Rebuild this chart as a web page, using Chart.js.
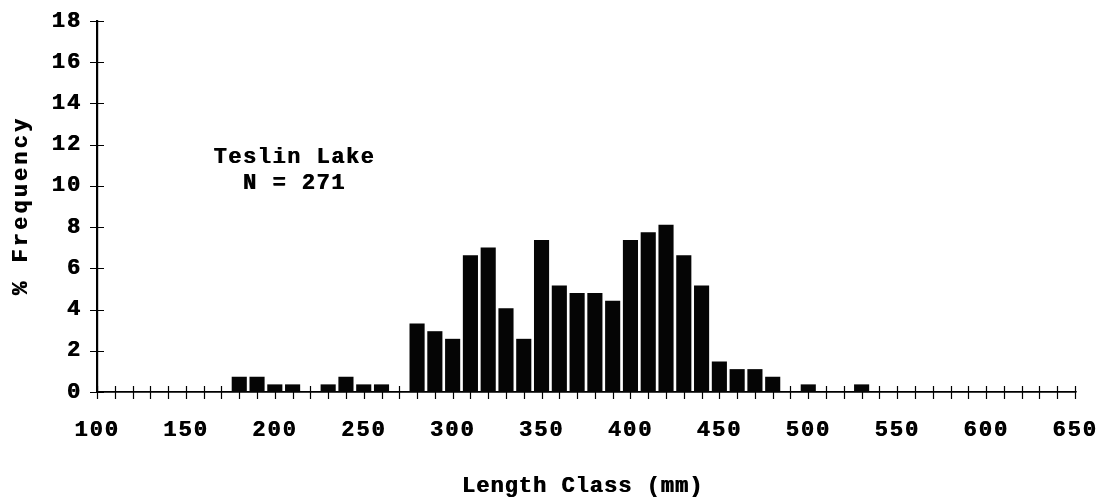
<!DOCTYPE html>
<html>
<head>
<meta charset="utf-8">
<style>
  html, body { margin: 0; padding: 0; background: #fff; }
  #wrap { width: 1102px; height: 500px; }
</style>
<script src="https://cdn.jsdelivr.net/npm/chart.js@4/dist/chart.umd.min.js"></script>
</head>
<body>
<div id="wrap"><canvas id="c" width="1102" height="500"></canvas></div>
<script>
// Length-frequency of the Teslin Lake sample (N = 271), 10 mm classes
const lengthClasses = [180, 190, 200, 210, 230, 240, 250, 260,
  280, 290, 300, 310, 320, 330, 340, 350, 360, 370, 380, 390,
  400, 410, 420, 430, 440, 450, 460, 470, 480, 500, 530];
const pctFreq = [0.74, 0.74, 0.37, 0.37, 0.37, 0.74, 0.37, 0.37,
  3.32, 2.95, 2.58, 6.64, 7.01, 4.06, 2.58, 7.38, 5.17, 4.80, 4.80, 4.43,
  7.38, 7.75, 8.12, 6.64, 5.17, 1.48, 1.11, 1.11, 0.74, 0.37, 0.37];

const xRange = [100, 650];
const xMinorStep = 10;
const xLabelStep = 50;
const yRange = [0, 18];
const yStep = 2;

const sampleLabel = ['Teslin Lake', 'N = 271'];
const xTitle = 'Length Class (mm)';
const yTitle = '% Frequency';

const FONT = "'Liberation Mono', 'Courier New', monospace";

// heavy, widely spaced typewriter lettering for the axis labels
function inkStyle(ctx, on) {
  ctx.shadowColor = on ? '#000' : 'rgba(0,0,0,0)';
  ctx.shadowOffsetX = on ? 0.7 : 0;
  ctx.shadowOffsetY = 0;
  ctx.shadowBlur = 0;
}
const typewriter = {
  id: 'typewriter',
  beforeDraw(chart) {
    chart.ctx.letterSpacing = '2px';
    inkStyle(chart.ctx, true);
  },
  beforeDatasetsDraw(chart) { inkStyle(chart.ctx, false); },
  afterDraw(chart) {
    chart.ctx.letterSpacing = '0px';
    inkStyle(chart.ctx, false);
  }
};

// crossing tick marks on both axes, drawn under the bars
const crossTicks = {
  id: 'crossTicks',
  beforeDatasetsDraw(chart) {
    const { ctx, scales: { x, y } } = chart;
    const y0 = y.getPixelForValue(0);
    const x0 = x.getPixelForValue(xRange[0]);
    ctx.save();
    inkStyle(ctx, false);
    ctx.strokeStyle = '#000';
    ctx.lineWidth = 1.2;
    ctx.beginPath();
    for (let v = xRange[0]; v <= xRange[1]; v += xMinorStep) {
      const px = Math.round(x.getPixelForValue(v)) + 0.5;
      ctx.moveTo(px, y0 - 6);
      ctx.lineTo(px, y0 + 7);
    }
    for (let v = yRange[0]; v <= yRange[1]; v += yStep) {
      const py = Math.round(y.getPixelForValue(v)) + 0.5;
      ctx.moveTo(x0 - 7, py);
      ctx.lineTo(x0 + 7, py);
    }
    ctx.stroke();
    ctx.restore();
  }
};

function spacedText(ctx, text, x, y, size, spacing) {
  ctx.font = 'bold ' + size + 'px ' + FONT;
  ctx.letterSpacing = spacing + 'px';
  ctx.textAlign = 'center';
  ctx.textBaseline = 'middle';
  ctx.fillText(text, x + spacing / 2, y);
}

// axis titles and the sample note
const labels = {
  id: 'labels',
  afterDraw(chart) {
    const { ctx, chartArea: a, scales: { x, y } } = chart;
    ctx.save();
    ctx.fillStyle = '#000';
    inkStyle(ctx, true);
    const cx = x.getPixelForValue(210.5);
    spacedText(ctx, sampleLabel[0], cx, y.getPixelForValue(11.4), 22, 1.5);
    spacedText(ctx, sampleLabel[1], cx, y.getPixelForValue(10.1), 22, 1.5);
    spacedText(ctx, xTitle, (a.left + a.right) / 2 - 4, 486, 22, 1);
    ctx.restore();
    ctx.save();
    ctx.fillStyle = '#000';
    ctx.translate(21, (a.top + a.bottom) / 2);
    ctx.rotate(-Math.PI / 2);
    ctx.shadowColor = '#000';
    ctx.shadowOffsetY = 0.7;
    ctx.shadowBlur = 0;
    spacedText(ctx, yTitle, 0, 0, 22, 3.1);
    ctx.restore();
  }
};

new Chart(document.getElementById('c'), {
  type: 'bar',
  data: {
    datasets: [{
      data: lengthClasses.map((v, i) => ({ x: v, y: pctFreq[i] })),
      backgroundColor: '#050505',
      borderWidth: 0,
      barPercentage: 0.85,
      categoryPercentage: 1.0
    }]
  },
  options: {
    responsive: false,
    animation: false,
    events: [],
    layout: { padding: { top: 21, right: 27, left: 0, bottom: 0 } },
    plugins: { legend: { display: false }, tooltip: { enabled: false } },
    scales: {
      x: {
        type: 'linear',
        offset: false,
        min: xRange[0],
        max: xRange[1],
        afterFit(s) {
          s.height = 108;
          s.paddingLeft = 0;
          s.paddingRight = 0;
        },
        afterBuildTicks(s) {
          const t = [];
          for (let v = xRange[0]; v <= xRange[1]; v += xMinorStep) t.push({ value: v });
          s.ticks = t;
        },
        ticks: {
          autoSkip: false,
          maxRotation: 0,
          padding: 25,
          color: '#000',
          font: { family: FONT, size: 22, weight: 'bold' },
          callback: v => (v % xLabelStep === 0 ? String(v) : '')
        },
        grid: { display: false, drawTicks: false },
        border: { display: true, color: '#000', width: 1.5 }
      },
      y: {
        min: yRange[0],
        max: yRange[1],
        afterFit(s) {
          s.width = 97;
          s.paddingTop = 0;
          s.paddingBottom = 0;
        },
        ticks: {
          stepSize: yStep,
          padding: 15,
          color: '#000',
          font: { family: FONT, size: 22, weight: 'bold' }
        },
        grid: { display: false, drawTicks: false },
        border: { display: true, color: '#000', width: 1.5 }
      }
    }
  },
  plugins: [typewriter, crossTicks, labels]
});
</script>
</body>
</html>
